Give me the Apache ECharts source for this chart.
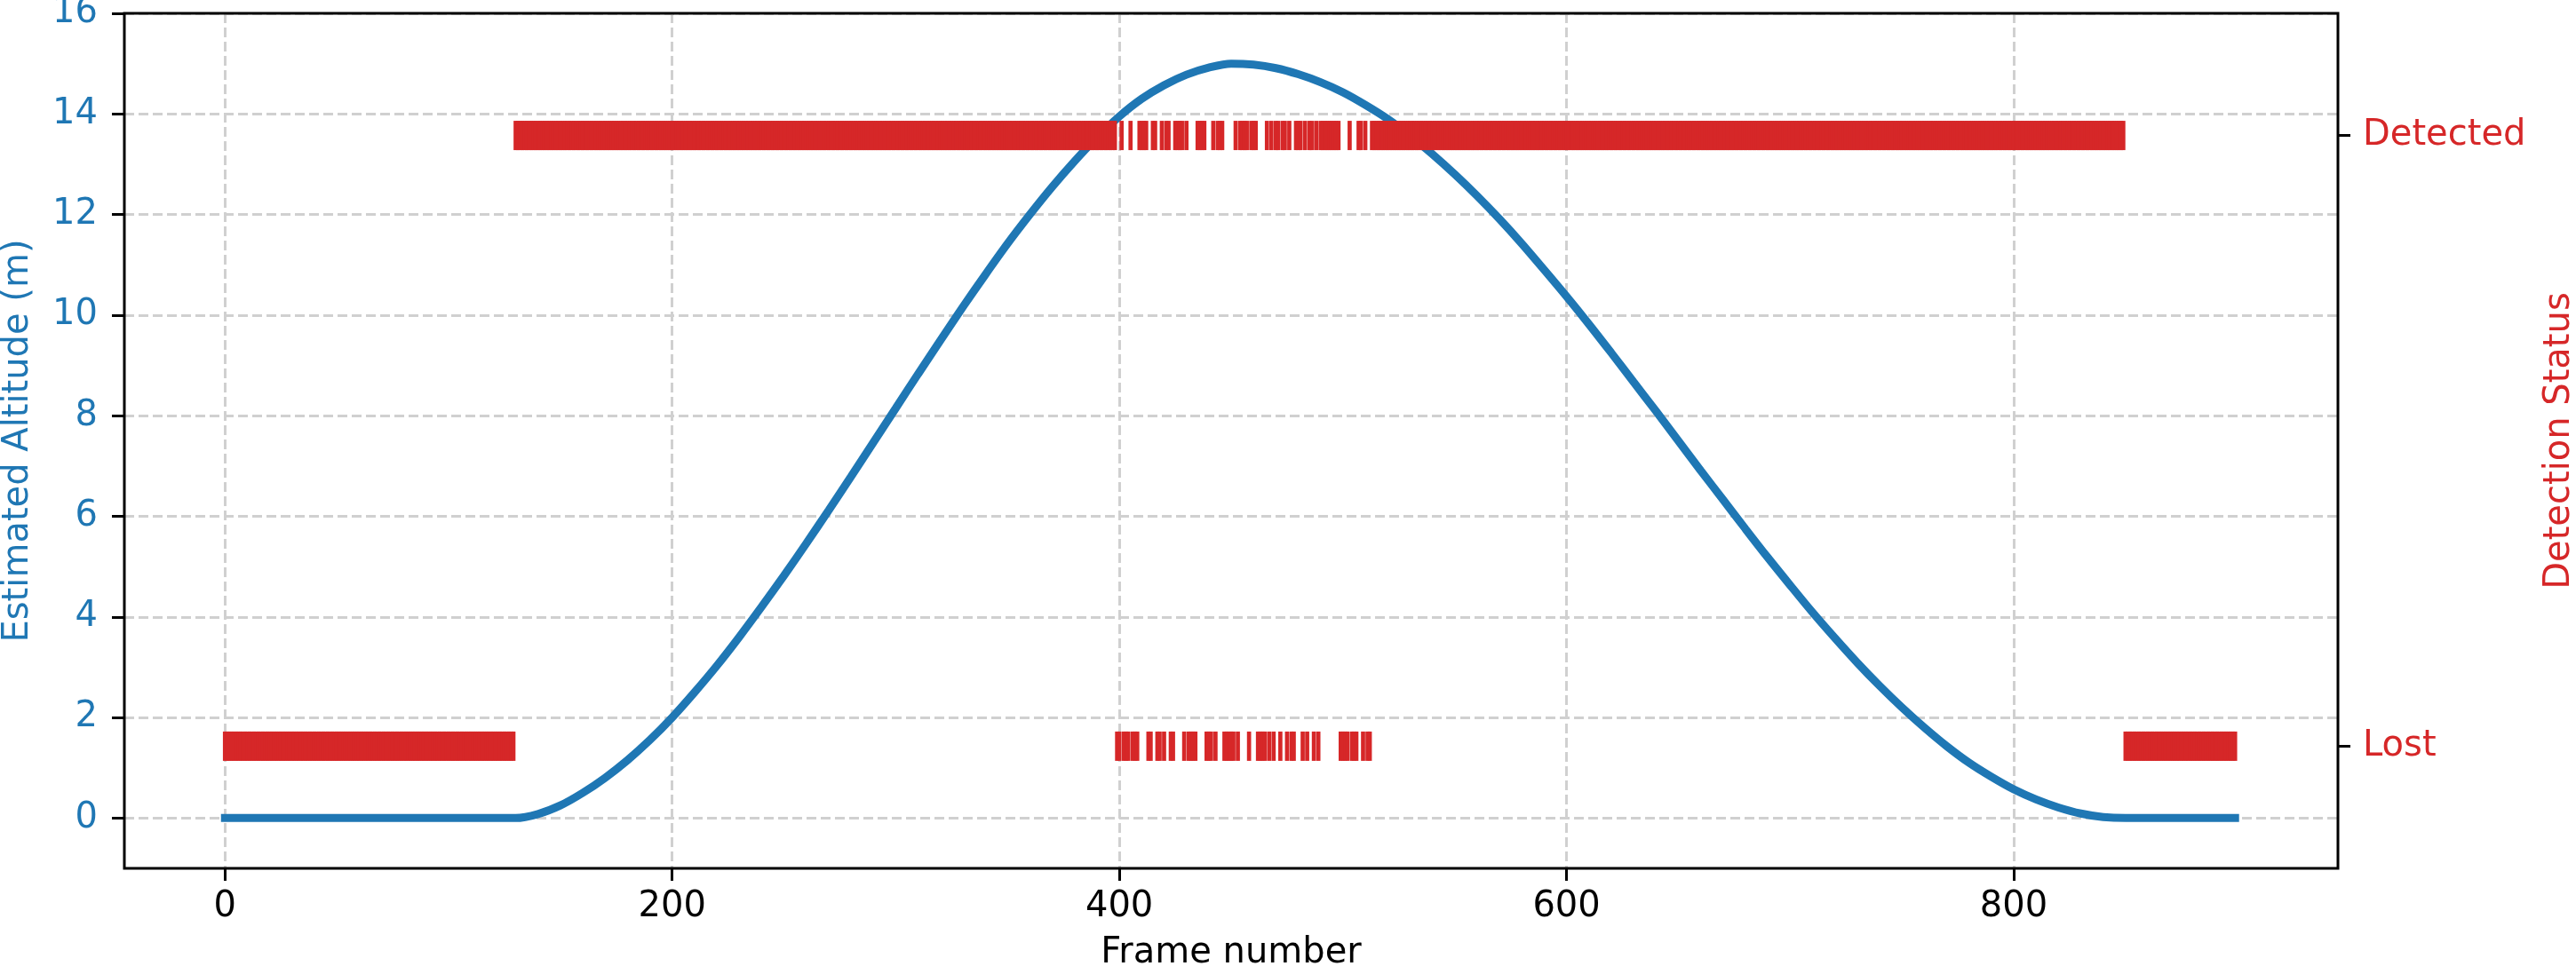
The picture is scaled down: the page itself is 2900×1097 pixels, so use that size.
<!DOCTYPE html>
<html>
<head>
<meta charset="utf-8">
<script src="https://cdn.jsdelivr.net/npm/echarts@6/dist/echarts.min.js"></script>
<style>
  html, body { margin: 0; padding: 0; background: #fff; }
  #chart { width: 2900px; height: 1097px; }
</style>
</head>
<body>
<div id="chart"></div>
<script>
// estimated altitude (frame -> metres)
const altFrames = [0, 130, 140, 150, 160, 170, 180, 190, 200, 210, 220, 230, 240, 250, 260, 270, 280, 290,
  300, 310, 320, 330, 340, 350, 360, 370, 380, 390, 400, 410, 420, 430, 440, 450,
  460, 470, 480, 490, 500, 510, 520, 530, 540, 550, 560, 570, 580, 590, 600,
  610, 620, 630, 640, 650, 660, 670, 680, 690, 700, 710, 720, 730, 740, 750,
  760, 770, 780, 790, 800, 810, 820, 830, 840, 850, 899]
const altValues = [0, 0, 0.08, 0.25, 0.5, 0.8, 1.15, 1.55, 2.0, 2.5, 3.03, 3.6, 4.2, 4.82, 5.46, 6.12, 6.79, 7.47,
  8.15, 8.83, 9.5, 10.16, 10.8, 11.42, 12.0, 12.55, 13.06, 13.53, 13.95, 14.3, 14.57, 14.78, 14.92, 15.0,
  14.98, 14.91, 14.79, 14.63, 14.43, 14.18, 13.9, 13.57, 13.2, 12.8, 12.37, 11.91, 11.42, 10.9, 10.37,
  9.82, 9.25, 8.67, 8.09, 7.5, 6.91, 6.33, 5.75, 5.18, 4.63, 4.09, 3.58, 3.09, 2.63, 2.2,
  1.8, 1.43, 1.1, 0.82, 0.57, 0.37, 0.21, 0.09, 0.02, 0, 0]

// detection status per frame: everything detected except these
const frameCount = 900
const lostRuns = [[0, 129], [850, 899]]
const lostFrames = [399, 400, 402, 403, 404, 406, 407, 408, 413, 414, 417, 418, 420, 423, 424,
  429, 431, 432, 433, 434, 439, 440, 441, 443, 447, 448, 449, 450, 451, 453, 458,
  462, 463, 464, 465, 467, 469, 472, 475, 477, 478, 482, 484, 487, 489,
  499, 500, 501, 502, 504, 505, 506, 509, 511, 512]

const xTicks = [0, 200, 400, 600, 800]
const altTicks = [0, 2, 4, 6, 8, 10, 12, 14, 16]
const statusTicks = [0, 1]
const statusLabels = ['Lost', 'Detected']

const BLUE = '#1f77b4'
const RED = '#d62728'
const FONT = 'DejaVu Sans'
const FS = 40
const markWidth = 1.86 // in frames
const markHeight = 33 // px

const lostSet = new Set(lostFrames)
lostRuns.forEach(([a, b]) => { for (let f = a; f <= b; f++) lostSet.add(f) })
const statusData = []
for (let f = 0; f < frameCount; f++) {
  statusData.push([f, lostSet.has(f) ? 0 : 1])
}
const altData = altFrames.map((f, i) => [f, altValues[i]])

const gridLine = { show: true, lineStyle: { color: '#d0d0d0', width: 3, type: [11, 5] } }
const tick = { show: true, length: 14, lineStyle: { color: '#000', width: 3 } }

const chart = echarts.init(document.getElementById('chart'))
chart.setOption({
  animation: false,
  backgroundColor: '#fff',
  grid: {
    left: 140, right: 268, top: 15, bottom: 119, z: 10,
    outerBoundsMode: 'none',
    containLabel: false,
    show: true, borderColor: '#000', borderWidth: 3, backgroundColor: 'transparent'
  },
  xAxis: {
    type: 'value',
    min: -45,
    max: 945,
    name: 'Frame number',
    nameLocation: 'middle',
    nameGap: 76,
    nameTextStyle: { fontFamily: FONT, fontSize: FS, color: '#000' },
    axisLine: { show: false, onZero: false },
    axisTick: Object.assign({ customValues: xTicks }, tick),
    axisLabel: { fontFamily: FONT, fontSize: FS, color: '#000', margin: 24, customValues: xTicks },
    splitLine: gridLine
  },
  yAxis: [{
    type: 'value',
    min: -1,
    max: 16,
    name: 'Estimated Altitude (m)',
    nameLocation: 'middle',
    nameRotate: 90,
    nameGap: 99,
    nameTextStyle: { fontFamily: FONT, fontSize: FS, color: BLUE },
    axisLine: { show: false, onZero: false },
    axisTick: Object.assign({ customValues: altTicks }, tick),
    axisLabel: { fontFamily: FONT, fontSize: FS, color: BLUE, margin: 30, customValues: altTicks },
    splitLine: gridLine
  }, {
    type: 'value',
    position: 'right',
    min: -0.2,
    max: 1.2,
    name: 'Detection Status',
    nameLocation: 'middle',
    nameRotate: 90,
    nameGap: 230,
    nameTextStyle: { fontFamily: FONT, fontSize: FS, color: RED },
    axisLine: { show: false, onZero: false },
    axisTick: Object.assign({ customValues: statusTicks }, tick),
    axisLabel: {
      fontFamily: FONT, fontSize: FS, color: RED, margin: 28, customValues: statusTicks,
      formatter: v => statusLabels[Math.round(v)]
    },
    splitLine: { show: false }
  }],
  series: [{
    type: 'line',
    yAxisIndex: 0,
    data: altData,
    showSymbol: false,
    smooth: 0.3,
    z: 2,
    lineStyle: { color: BLUE, width: 9, cap: 'square' }
  }, {
    type: 'custom',
    yAxisIndex: 1,
    data: statusData,
    encode: { x: 0, y: 1 },
    z: 3,
    renderItem(params, api) {
      const c = api.coord([api.value(0), api.value(1)])
      const w = api.size([markWidth, 0])[0]
      return {
        type: 'rect',
        shape: { x: c[0] - w / 2, y: c[1] - markHeight / 2, width: w, height: markHeight },
        style: { fill: RED }
      }
    }
  }]
})
</script>
</body>
</html>
